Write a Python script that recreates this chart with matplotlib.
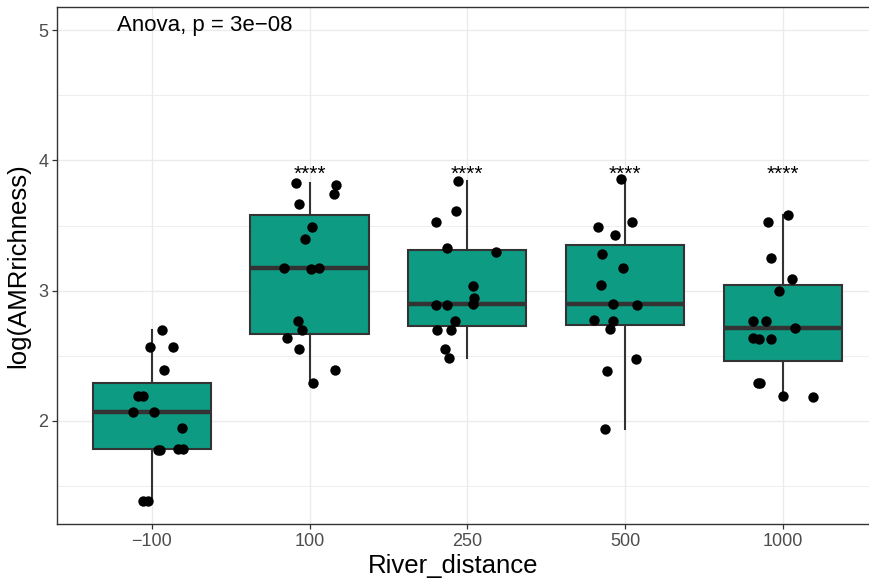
import numpy as np
import matplotlib
matplotlib.use("Agg")
import matplotlib.pyplot as plt
from matplotlib.ticker import MultipleLocator

plt.rcParams["font.family"] = ["Liberation Sans", "DejaVu Sans"]

# groups along River_distance
groups = ["\u2212100", "100", "250", "500", "1000"]

# log(AMRrichness) per sample
vals_m100 = [2.70, 2.564, 2.564, 2.392, 2.195, 2.195, 2.072, 2.067, 1.944,
             1.777, 1.780, 1.785, 1.785, 1.382, 1.382]
vals_100 = [3.823, 3.81, 3.744, 3.667, 3.492, 3.395, 3.177, 3.169, 3.177,
            2.764, 2.695, 2.636, 2.556, 2.392, 2.295]
vals_250 = [3.841, 3.613, 3.525, 3.328, 3.297, 3.036, 2.941, 2.89, 2.89,
            2.898, 2.764, 2.698, 2.698, 2.554, 2.482]
vals_500 = [3.856, 3.528, 3.487, 3.426, 3.282, 3.172, 3.041, 2.895, 2.887,
            2.777, 2.764, 2.708, 2.477, 2.387, 1.936]
vals_1000 = [3.579, 3.525, 3.254, 3.087, 2.998, 2.767, 2.767, 2.710, 2.636,
             2.628, 2.628, 2.295, 2.290, 2.19, 2.187]

# horizontal jitter of each point (category units), same order as above
jit_m100 = [0.063, -0.011, 0.133, 0.078, -0.085, -0.053, -0.117, 0.015, 0.190,
            0.042, 0.049, 0.169, 0.197, -0.053, -0.022]
jit_100 = [-0.087, 0.166, 0.153, -0.067, 0.014, -0.030, -0.160, 0.010, 0.062,
           -0.075, -0.049, -0.141, -0.065, 0.164, 0.024]
jit_250 = [-0.056, -0.071, -0.195, -0.130, 0.185, 0.039, 0.041, -0.200, -0.130,
           0.037, -0.077, -0.189, -0.100, -0.138, -0.115]
jit_500 = [-0.022, 0.045, -0.168, -0.063, -0.147, -0.012, -0.153, -0.073, 0.079,
           -0.196, -0.075, -0.098, 0.068, -0.115, -0.126]
jit_1000 = [0.034, -0.095, -0.072, 0.061, -0.025, -0.186, -0.104, 0.076, -0.186,
            -0.150, -0.074, -0.157, -0.144, 0.002, 0.190]

signif = ["", "****", "****", "****", "****"]
anova_label = "Anova, p = 3e\u221208"

values = [vals_m100, vals_100, vals_250, vals_500, vals_1000]
jitter = [jit_m100, jit_100, jit_250, jit_500, jit_1000]
pos = np.arange(1, len(groups) + 1)

fig = plt.figure(figsize=(8.69, 5.82), dpi=100)
ax = fig.add_axes([57.2 / 869, 57.7 / 582, 820.1 / 869, 517.0 / 582])

ax.boxplot(values, positions=pos, widths=0.75, patch_artist=True,
           showfliers=False, showcaps=False, whis=1.5,
           boxprops=dict(facecolor="#0D9B83", edgecolor="#333333", lw=1.5),
           whiskerprops=dict(color="#333333", lw=1.5),
           medianprops=dict(color="#333333", lw=3.2), zorder=2)

for p, v, j in zip(pos, values, jitter):
    ax.scatter(p + np.array(j), v, s=56, color="black", lw=0, zorder=3)

for p, s in zip(pos, signif):
    if s:
        ax.text(p, 3.85, s, ha="center", va="baseline", fontsize=15, zorder=4)
ax.text(0.78, 4.995, anova_label, ha="left", va="baseline", fontsize=16)

ax.set_xlim(0.4, 5.6)
ax.set_ylim(1.207, 5.175)
ax.set_xticks(pos)
ax.set_xticklabels(groups)
ax.yaxis.set_major_locator(MultipleLocator(1))
ax.yaxis.set_minor_locator(MultipleLocator(0.5))
ax.tick_params(which="major", length=3.5, width=0.9, color="#333333",
               labelcolor="#4D4D4D", labelsize=13, pad=3)
ax.tick_params(which="minor", length=0)

ax.grid(which="major", color="#EBEBEB", lw=1.0, zorder=0)
ax.grid(which="minor", axis="y", color="#EBEBEB", lw=0.6, zorder=0)
ax.set_axisbelow(True)
for sp in ax.spines.values():
    sp.set_color("#333333")
    sp.set_linewidth(1.0)
ax.spines["right"].set_visible(False)

ax.set_xlabel("River_distance", fontsize=18.5)
ax.set_ylabel("log(AMRrichness)", fontsize=18.5, labelpad=6)
ax.xaxis.set_label_coords(0.483, -0.058)

fig.savefig("out.png", dpi=100)
